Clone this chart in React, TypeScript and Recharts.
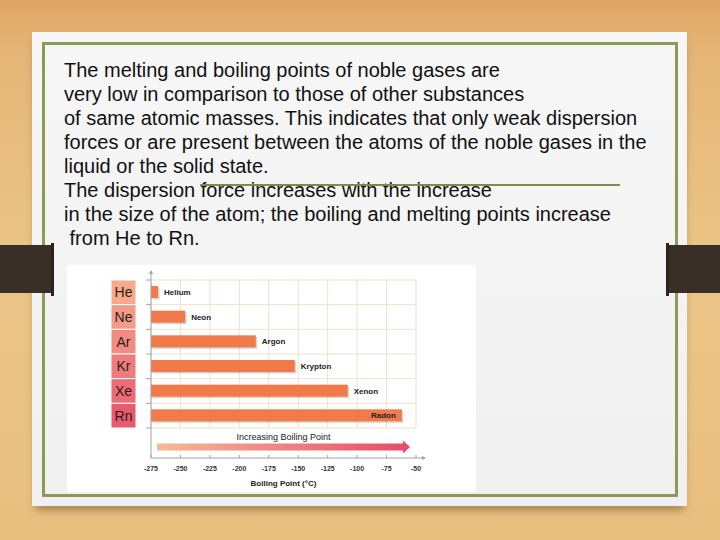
import React from "react";
import { BarChart, Bar, XAxis, YAxis, CartesianGrid, LabelList } from "recharts";

// noble gases, top to bottom
const symbols = ["He", "Ne", "Ar", "Kr", "Xe", "Rn"];
const elementNames = ["Helium", "Neon", "Argon", "Krypton", "Xenon", "Radon"];
const boilingPoints = [-269, -246, -186, -153, -108, -62]; // °C
const xTicks = [-275, -250, -225, -200, -175, -150, -125, -100, -75, -50];

const paragraph = [
  "The melting and boiling points of noble gases are",
  "very low in comparison to those of other substances",
  "of same atomic masses. This indicates that only weak dispersion",
  "forces or are present between the atoms of the noble gases in the",
  "liquid or the solid state.",
  "The dispersion force increases with the increase",
  "in the size of the atom; the boiling and melting points increase",
  " from He to Rn.",
];

const X_MIN = xTicks[0];
const X_MAX = xTicks[xTicks.length - 1];

// bars start at the left end of the axis, so use [axis min, value] ranges
const data = symbols.map((s, i) => ({
  symbol: s,
  name: elementNames[i],
  bp: [X_MIN, boilingPoints[i]],
}));

// layout
const CHART_LEFT = 67;
const CHART_TOP = 265;
const CHART_W = 409;
const CHART_H = 227;
const Y_AXIS_W = 84;
const M_TOP = 15;
const M_RIGHT = 60;
const X_AXIS_H = 34;
const PAD_BOTTOM = 30;
const PLOT_H = CHART_H - M_TOP - X_AXIS_H;
const BAND_AREA = PLOT_H - PAD_BOTTOM;
const BAND = BAND_AREA / symbols.length;

const FONT = "'Liberation Sans', Arial, sans-serif";
const CELL_COLORS = ["#f6a98b", "#f49b87", "#f28b81", "#ef7b7b", "#ec6b74", "#e85a6d"];
const GRID = "#ece2cf";
const AXIS = "#a3a3a3";

const SymbolTick = (props: any) => {
  const { x, y, payload } = props;
  const i = symbols.indexOf(payload.value);
  const half = BAND / 2;
  return (
    <g>
      <rect x={x - 40} y={y - half} width={25} height={BAND} fill={CELL_COLORS[i]} stroke="#fff" strokeWidth={1} />
      <text x={x - 27.5} y={y + 5} textAnchor="middle" fontSize={14} fill="#2e1c1c" fontFamily={FONT}>
        {payload.value}
      </text>
      <line x1={x - 5} x2={x} y1={y - half} y2={y - half} stroke={AXIS} />
      {i === symbols.length - 1 && <line x1={x - 5} x2={x} y1={y + half} y2={y + half} stroke={AXIS} />}
    </g>
  );
};

const XTick = (props: any) => {
  const { x, y, payload } = props;
  return (
    <g>
      <line x1={x} x2={x} y1={y} y2={y - 3} stroke={AXIS} />
      <text x={x} y={y + 12.5} textAnchor="middle" fontSize={7} fontWeight="bold" fill="#333" fontFamily={FONT}>
        {payload.value}
      </text>
    </g>
  );
};

const ShadowBar = (p: any) => {
  const x = Math.min(p.x, p.x + p.width);
  const w = Math.abs(p.width);
  return (
    <g>
      <rect x={x + 1.5} y={p.y + 1.5} width={w} height={p.height} fill="#000" opacity={0.16} />
      <rect x={x} y={p.y} width={w} height={p.height} fill={p.fill} />
    </g>
  );
};

const BarLabel = (p: any) => {
  const { x, y, width, height, value } = p;
  const inside = value === elementNames[elementNames.length - 1];
  return (
    <text
      x={inside ? x + width - 6 : x + width + 6}
      y={y + height / 2 + 3}
      textAnchor={inside ? "end" : "start"}
      fontSize={8}
      fontWeight="bold"
      fill="#222"
      fontFamily={FONT}
    >
      {value}
    </text>
  );
};

// grid rows on the band edges, not the band centres
const rowEdges = ({ yAxis }: any) => {
  const s = yAxis && yAxis.scale;
  if (typeof s === "function" && typeof s.bandwidth === "function") {
    const bw = s.bandwidth();
    return [...symbols.map((c) => s(c)), s(symbols[symbols.length - 1]) + bw];
  }
  return [...symbols.map((_, i) => M_TOP + i * BAND), M_TOP + BAND_AREA];
};

function NobleGasChart() {
  return (
    <BarChart
      width={CHART_W}
      height={CHART_H}
      data={data}
      layout="vertical"
      margin={{ top: M_TOP, right: M_RIGHT, left: 0, bottom: 0 }}
    >
      <CartesianGrid y={M_TOP} height={BAND_AREA} stroke={GRID} horizontalCoordinatesGenerator={rowEdges} />
      <XAxis
        type="number"
        domain={[X_MIN, X_MAX]}
        ticks={xTicks}
        interval={0}
        height={X_AXIS_H}
        tickSize={0}
        tickMargin={0}
        tick={<XTick />}
        axisLine={{ stroke: AXIS }}
        label={{
          value: "Boiling Point (°C)",
          position: "insideBottom",
          offset: 6,
          fontSize: 8,
          fontWeight: "bold",
          fill: "#222",
          fontFamily: FONT,
        }}
      />
      <YAxis
        type="category"
        dataKey="symbol"
        width={Y_AXIS_W}
        interval={0}
        padding={{ top: 0, bottom: PAD_BOTTOM }}
        tickSize={0}
        tickMargin={0}
        tick={<SymbolTick />}
        axisLine={{ stroke: AXIS }}
      />
      <Bar dataKey="bp" barSize={12} fill="#f07a4a" shape={<ShadowBar />} isAnimationActive={false}>
        <LabelList dataKey="name" content={<BarLabel />} />
      </Bar>
    </BarChart>
  );
}

export default function App() {
  const axisX = CHART_LEFT + Y_AXIS_W;
  const axisY = CHART_TOP + M_TOP + PLOT_H;
  const plotRight = CHART_LEFT + CHART_W - M_RIGHT;
  const arrowY = CHART_TOP + M_TOP + BAND_AREA + 19;
  return (
    <div
      style={{
        position: "absolute",
        left: 0,
        top: 0,
        width: 720,
        height: 540,
        overflow: "hidden",
        background:
          "linear-gradient(180deg, #dea565 0%, #e5b676 10%, #ebc588 50%, #e9bf7f 100%)",
        fontFamily: FONT,
      }}
    >
      {/* paper card */}
      <div
        style={{
          position: "absolute",
          left: 32,
          top: 32,
          width: 655,
          height: 474,
          background: "linear-gradient(180deg, #f7f7f7 0%, #f0f0f0 100%)",
          boxShadow: "0 7px 8px -3px rgba(80,55,20,0.45)",
        }}
      />
      <div
        style={{
          position: "absolute",
          left: 42,
          top: 42,
          width: 630,
          height: 449,
          border: "3px solid #8b9b55",
        }}
      />
      {/* tabs */}
      <div style={{ position: "absolute", left: 0, top: 245, width: 53, height: 48, background: "#3a2f28" }} />
      <div style={{ position: "absolute", left: 51, top: 243, width: 3, height: 53, background: "#2c231d" }} />
      <div style={{ position: "absolute", left: 667, top: 245, width: 53, height: 48, background: "#3a2f28" }} />
      <div style={{ position: "absolute", left: 666, top: 243, width: 3, height: 53, background: "#2c231d" }} />

      {/* text */}
      <div
        style={{
          position: "absolute",
          left: 64,
          top: 58,
          fontSize: 20,
          lineHeight: "24px",
          color: "#111",
          whiteSpace: "pre",
        }}
      >
        {paragraph.map((line, i) => (
          <div key={i}>{line}</div>
        ))}
      </div>
      <div style={{ position: "absolute", left: 200, top: 184, width: 420, height: 2, background: "#7f8b4c" }} />

      {/* chart picture */}
      <div
        style={{
          position: "absolute",
          left: CHART_LEFT,
          top: CHART_TOP,
          width: CHART_W,
          height: CHART_H,
          background: "#fff",
        }}
      >
        <NobleGasChart />
      </div>

      <svg
        width={720}
        height={540}
        style={{ position: "absolute", left: 0, top: 0, pointerEvents: "none" }}
      >
        <defs>
          <linearGradient id="incr" x1="0" x2="1" y1="0" y2="0">
            <stop offset="0%" stopColor="#f7b996" />
            <stop offset="100%" stopColor="#e84a6b" />
          </linearGradient>
        </defs>
        {/* axis arrow ends */}
        <line x1={axisX} x2={axisX} y1={CHART_TOP + M_TOP} y2={CHART_TOP + 6} stroke={AXIS} />
        <path d={`M${axisX - 2},${CHART_TOP + 9} L${axisX},${CHART_TOP + 5} L${axisX + 2},${CHART_TOP + 9} Z`} fill={AXIS} />
        <line x1={plotRight} x2={plotRight + 9} y1={axisY} y2={axisY} stroke={AXIS} />
        <path d={`M${plotRight + 6},${axisY - 2} L${plotRight + 10},${axisY} L${plotRight + 6},${axisY + 2} Z`} fill={AXIS} />
        {/* increasing boiling point arrow */}
        <text x={(axisX + plotRight) / 2} y={arrowY - 7} textAnchor="middle" fontSize={9} fill="#222" fontFamily={FONT}>
          Increasing Boiling Point
        </text>
        <path
          d={`M${axisX + 6},${arrowY - 3.5} L${plotRight - 13},${arrowY - 3.5} L${plotRight - 13},${arrowY - 6.5} L${plotRight - 6},${arrowY} L${plotRight - 13},${arrowY + 6.5} L${plotRight - 13},${arrowY + 3.5} L${axisX + 6},${arrowY + 3.5} Z`}
          fill="url(#incr)"
        />
      </svg>
    </div>
  );
}
